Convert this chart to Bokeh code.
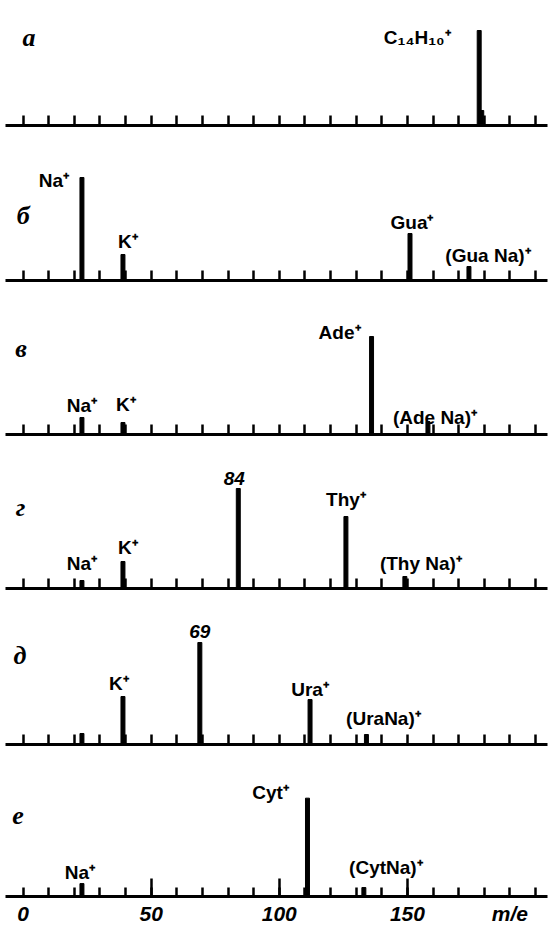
from bokeh.plotting import figure
from bokeh.models import Range1d, FixedTicker, LinearAxis, ColumnDataSource, Label
from bokeh.layouts import column
from bokeh.embed import file_html
from bokeh.resources import INLINE
from bokeh.core.properties import value

# ---------------- data (m/e, relative intensity) ----------------
panel_letters = ["а", "б", "в", "г", "д", "е"]

a_mz = [178, 179]
a_int = [95, 15]
a_labels = ["C₁₄H₁₀⁺"]
a_label_mz = [178]

b_mz = [23, 39, 151, 174]
b_int = [103, 26, 47, 14]
b_labels = ["Na⁺", "K⁺", "Gua⁺", "(Gua Na)⁺"]
b_label_mz = [23, 39, 151, 174]

c_mz = [23, 39, 136, 158]
c_int = [17, 12, 98, 13]
c_labels = ["Na⁺", "K⁺", "Ade⁺", "(Ade Na)⁺"]
c_label_mz = [23, 39, 136, 158]

d_mz = [23, 39, 84, 126, 149]
d_int = [8, 27, 100, 72, 12]
d_labels = ["Na⁺", "K⁺", "84", "Thy⁺", "(Thy Na)⁺"]
d_label_mz = [23, 39, 84, 126, 149]

e_mz = [23, 39, 69, 112, 134]
e_int = [11, 48, 102, 45, 10]
e_labels = ["K⁺", "69", "Ura⁺", "(UraNa)⁺"]
e_label_mz = [39, 69, 112, 134]

f_mz = [23, 111, 133]
f_int = [13, 99, 9]
f_labels = ["Na⁺", "Cyt⁺", "(CytNa)⁺"]
f_label_mz = [23, 111, 133]

minor_tick_values = list(range(0, 201, 10))
major_tick_values = [50, 100, 150]
axis_label_ticks = [0, 50, 100, 150, 190]
axis_label_overrides = {190: "m/e"}

# ---------------- style / layout ----------------
X0, X1 = -6.83, 204.65
BL, BR = 5, 5
W = 552
PXU = (W - BL - BR) / (X1 - X0)
frame_h = [125, 152, 151, 151, 153, 150]
border_b = [3, 3, 3, 3, 3, 30]
letter_px = [28.5, 22.7, 20.6, 20.0, 19.5, 17.4]
letter_h = [88, 65, 86, 81, 89, 82]
# label offsets (px) relative to the top of the peak they name
a_off = [(-62, 7)]
b_off = [(-28, 3), (5, -13), (2, -11), (19, -11)]
c_off = [(0, -12), (3, -18), (-32, -4), (7, -4)]
d_off = [(0, -17), (5, -14), (-4, -10), (0, -17), (16, -13)]
e_off = [(-4, -13), (0, -11), (0, -10), (17, -16)]
f_off = [(-2, -11), (-37, -6), (22, -20)]

LABEL_FONT = "Liberation Sans"
NUM_FONT = "Liberation Sans"


def make_panel(i, mz, inten, labels, label_mz, offs):
    bottom = i == 5
    p = figure(width=W, height=frame_h[i] + border_b[i],
               x_range=Range1d(X0, X1), y_range=Range1d(0, frame_h[i]),
               output_backend="svg", toolbar_location=None,
               x_axis_location=None, y_axis_location=None,
               min_border_left=BL, min_border_right=BR,
               min_border_top=0, min_border_bottom=border_b[i])
    p.outline_line_color = None
    p.background_fill_color = "white"
    p.border_fill_color = "white"
    for g in p.center:
        g.visible = False

    p.vbar(x=mz, top=inten, bottom=0, width=1.55, color="black")

    # tick-mark axis
    if bottom:
        ticker = FixedTicker(ticks=major_tick_values, minor_ticks=minor_tick_values)
    else:
        ticker = FixedTicker(ticks=[], minor_ticks=minor_tick_values)
    ax = LinearAxis(ticker=ticker)
    ax.axis_line_width = 3
    ax.axis_line_color = "black"
    ax.major_tick_line_width = 2.5
    ax.minor_tick_line_width = 2.5
    ax.major_tick_in = 18
    ax.major_tick_out = 0
    ax.minor_tick_in = 9 if bottom else 10
    ax.minor_tick_out = 0
    ax.major_label_text_color = None
    ax.major_label_text_font_size = "1px"
    ax.major_label_standoff = 0
    p.add_layout(ax, "below")

    if bottom:
        lab_ax = LinearAxis(ticker=FixedTicker(ticks=axis_label_ticks, minor_ticks=[]))
        lab_ax.axis_line_color = None
        lab_ax.major_tick_line_color = None
        lab_ax.minor_tick_line_color = None
        lab_ax.major_tick_in = 0
        lab_ax.major_tick_out = 0
        lab_ax.major_label_overrides = axis_label_overrides
        lab_ax.major_label_text_font = NUM_FONT
        lab_ax.major_label_text_font_style = "bold italic"
        lab_ax.major_label_text_font_size = "21px"
        lab_ax.major_label_text_color = "black"
        lab_ax.major_label_standoff = 5
        p.add_layout(lab_ax, "below")

    # peak labels
    lookup = dict(zip(mz, inten))
    ion = dict(x=[], y=[], text=[], dx=[], dy=[])
    num = dict(x=[], y=[], text=[], dx=[], dy=[])
    for t, m, (dx, dy) in zip(labels, label_mz, offs):
        target = num if t.isdigit() else ion
        target["x"].append(m)
        target["y"].append(lookup[m])
        target["text"].append(t)
        target["dx"].append(dx)
        target["dy"].append(dy)
    if ion["x"]:
        p.text(x="x", y="y", text="text", x_offset="dx", y_offset="dy",
               source=ColumnDataSource(ion), text_font=value(LABEL_FONT),
               text_font_size="19px", text_font_style="bold",
               text_align="center", text_baseline="alphabetic", text_color="black")
    if num["x"]:
        p.text(x="x", y="y", text="text", x_offset="dx", y_offset="dy",
               source=ColumnDataSource(num), text_font=value(LABEL_FONT),
               text_font_size="19px", text_font_style="bold italic",
               text_align="center", text_baseline="alphabetic", text_color="black")

    p.add_layout(Label(x=X0 + (letter_px[i] - BL) / PXU, y=letter_h[i],
                       text=panel_letters[i], text_font="Liberation Serif",
                       text_font_style="bold italic", text_font_size="26px",
                       text_align="center", text_baseline="alphabetic",
                       text_color="black"))
    return p


panels = [
    make_panel(0, a_mz, a_int, a_labels, a_label_mz, a_off),
    make_panel(1, b_mz, b_int, b_labels, b_label_mz, b_off),
    make_panel(2, c_mz, c_int, c_labels, c_label_mz, c_off),
    make_panel(3, d_mz, d_int, d_labels, d_label_mz, d_off),
    make_panel(4, e_mz, e_int, e_labels, e_label_mz, e_off),
    make_panel(5, f_mz, f_int, f_labels, f_label_mz, f_off),
]

layout = column(*panels, spacing=0)
open("out.html", "w").write(file_html(layout, INLINE))
